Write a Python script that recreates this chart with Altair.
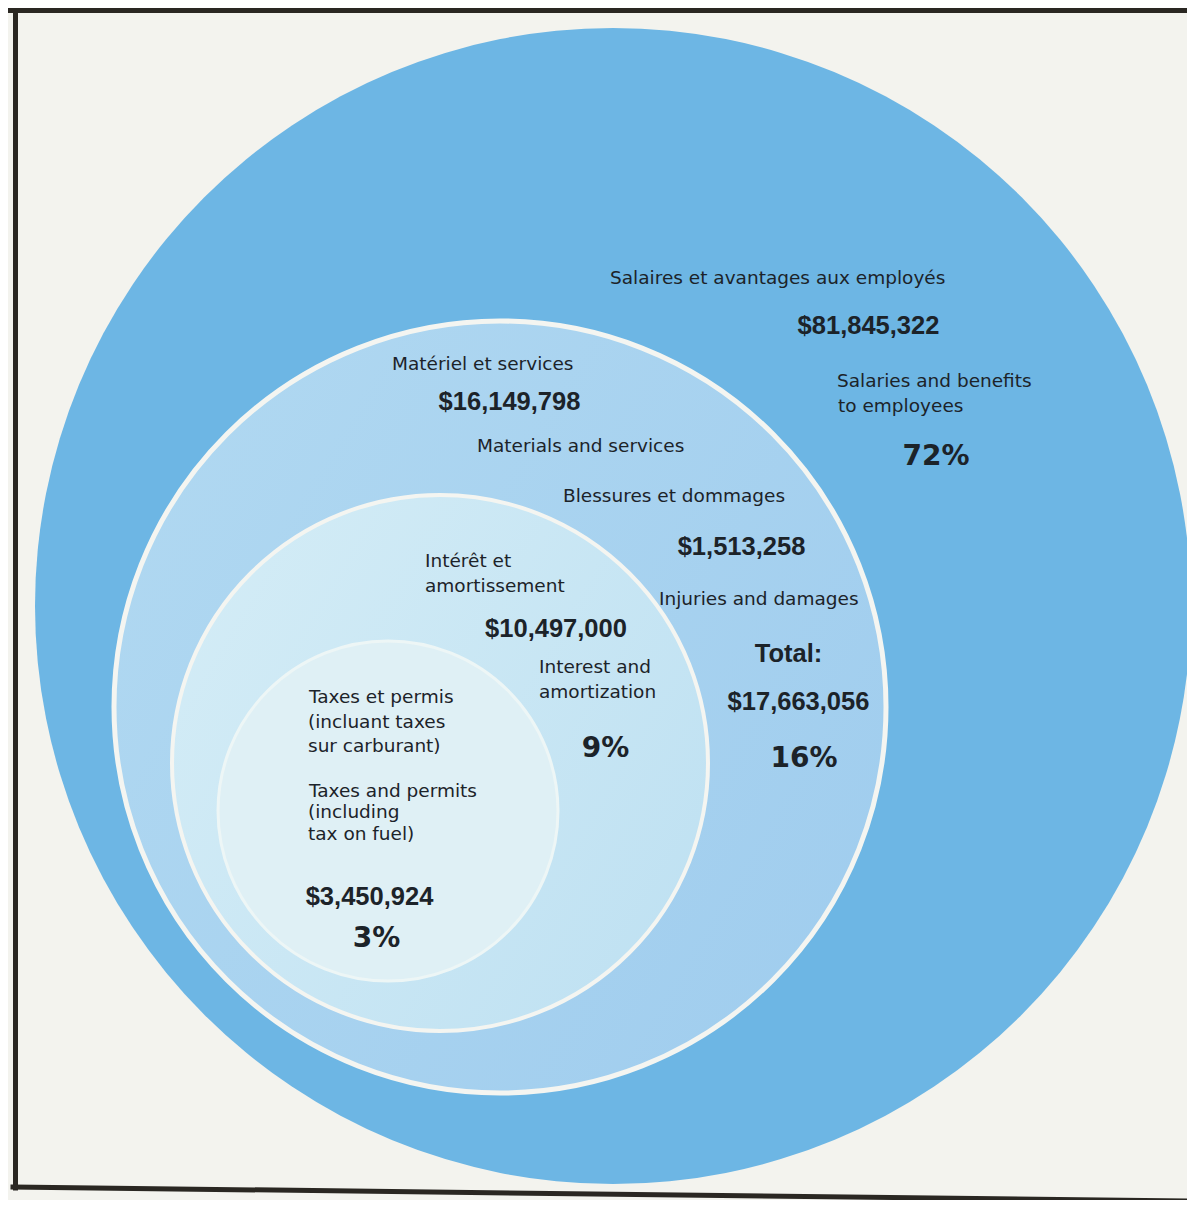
import altair as alt
import pandas as pd

# ---------------- data ----------------
categories_fr = [
    "Salaires et avantages aux employés",
    "Matériel et services",
    "Blessures et dommages",
    "Intérêt et\namortissement",
    "Taxes et permis\n(incluant taxes\nsur carburant)",
]
categories_en = [
    "Salaries and benefits\nto employees",
    "Materials and services",
    "Injuries and damages",
    "Interest and\namortization",
    "Taxes and permits\n(including\ntax on fuel)",
]
amounts = [81845322, 16149798, 1513258, 10497000, 3450924]
total_label = "Total:"
total_amount = 17663056
percent_groups = ["salaries", "materials+injuries", "interest", "taxes"]
percents = [72, 16, 9, 3]

# ---------------- layout (page pixel coordinates) ----------------
W, H = 1179, 1192
X0, Y0 = 8, 8

# circles: centre x, centre y, radius
circle_layout = {
    "outer":    (613, 606, 578),
    "middle":   (500, 707, 386),
    "interest": (440, 763, 268),
    "taxes":    (388, 811, 170),
}

# text anchors: (x, baseline y) per line
fr_pos = [
    [(610, 284)],
    [(392, 370)],
    [(563, 502)],
    [(425, 567), (425, 592)],
    [(309, 703), (308, 728), (308, 752)],
]
en_pos = [
    [(837, 387), (838, 412)],
    [(477, 452)],
    [(659, 605)],
    [(539, 673), (539, 698)],
    [(309, 797), (308, 818), (308, 840)],
]
amount_pos = [(868.5, 334), (509.5, 410), (741.5, 555), (556, 637), (369.5, 905)]
total_pos = [(788.5, 662), (798.5, 710)]
percent_pos = [(936, 465), (804, 767), (605.5, 757), (376.5, 947)]

# ---------------- build tables ----------------
label_rows = []
for texts, poss in ((categories_fr, fr_pos), (categories_en, en_pos)):
    for t, p in zip(texts, poss):
        for line, (x, y) in zip(t.split("\n"), p):
            label_rows.append({"text": line, "x": x, "y": y})
labels_df = pd.DataFrame(label_rows)

amount_rows = [{"text": f"${v:,}", "x": x, "y": y} for v, (x, y) in zip(amounts, amount_pos)]
amount_rows.append({"text": total_label, "x": total_pos[0][0], "y": total_pos[0][1]})
amount_rows.append({"text": f"${total_amount:,}", "x": total_pos[1][0], "y": total_pos[1][1]})
amounts_df = pd.DataFrame(amount_rows)

percent_df = pd.DataFrame(
    [{"text": f"{v}%", "group": g, "x": x, "y": y}
     for v, g, (x, y) in zip(percents, percent_groups, percent_pos)]
)

xs = alt.Scale(domain=[X0, X0 + W], nice=False, zero=False)
ys = alt.Scale(domain=[Y0, Y0 + H], nice=False, zero=False, reverse=True)


def circle_layer(name, fill, stroke=None, stroke_width=0):
    cx, cy, r = circle_layout[name]
    df = pd.DataFrame({"x": [cx], "y": [cy], "size": [(2 * r) ** 2]})
    kw = dict(shape="circle", filled=True, fill=fill, opacity=1, fillOpacity=1)
    if stroke is not None:
        kw.update(stroke=stroke, strokeWidth=stroke_width, strokeOpacity=1)
    else:
        kw.update(strokeWidth=0)
    return alt.Chart(df).mark_point(**kw).encode(
        x=alt.X("x:Q", scale=xs, axis=None),
        y=alt.Y("y:Q", scale=ys, axis=None),
        size=alt.Size("size:Q", scale=None, legend=None),
    )


def hgrad(c1, c2):
    return alt.LinearGradient(
        gradient="linear",
        stops=[alt.GradientStop(color=c1, offset=0), alt.GradientStop(color=c2, offset=1)],
        x1=0, x2=1, y1=0.2, y2=0.8,
    )


outer = circle_layer("outer", "#6db6e4")
middle = circle_layer("middle", hgrad("#b0d8f1", "#a0cdee"), "#f4f5f1", 5)
interest = circle_layer("interest", hgrad("#d3ecf6", "#bfe1f2"), "#f4f5f1", 4)
taxes = circle_layer("taxes", "#dff0f5", "#edf6f6", 3)

TEXT_COLOR = "#1c2329"

labels = alt.Chart(labels_df).mark_text(
    align="left", baseline="alphabetic", font="DejaVu Sans", fontSize=18.5, color=TEXT_COLOR
).encode(x=alt.X("x:Q", scale=xs, axis=None), y=alt.Y("y:Q", scale=ys, axis=None), text="text:N")

amount_text = alt.Chart(amounts_df).mark_text(
    align="center", baseline="alphabetic", font="Liberation Sans", fontWeight="bold",
    fontSize=25.5, color=TEXT_COLOR
).encode(x=alt.X("x:Q", scale=xs, axis=None), y=alt.Y("y:Q", scale=ys, axis=None), text="text:N")

percent_text = alt.Chart(percent_df).mark_text(
    align="center", baseline="alphabetic", font="DejaVu Sans", fontWeight="bold",
    fontSize=28, color=TEXT_COLOR
).encode(x=alt.X("x:Q", scale=xs, axis=None), y=alt.Y("y:Q", scale=ys, axis=None), text="text:N")

# frame of the printed page
frame_df = pd.DataFrame({
    "x": [X0, 15.5, 13],
    "y": [10.5, 9, 1187],
    "x2": [X0 + W, 15.5, X0 + W],
    "y2": [10.5, 1188, 1201],
})
frame = alt.Chart(frame_df).mark_rule(color="#2a2722", strokeWidth=5, strokeCap="square").encode(
    x=alt.X("x:Q", scale=xs, axis=None), y=alt.Y("y:Q", scale=ys, axis=None),
    x2="x2:Q", y2="y2:Q",
)

chart = alt.layer(outer, middle, interest, taxes, labels, amount_text, percent_text, frame).properties(
    width=W, height=H, padding=0, autosize=alt.AutoSizeParams(type="none"),
    background="#f3f3ee",
).configure_view(stroke=None)

chart.save("out.html", embed_options={"renderer": "svg", "actions": False})
